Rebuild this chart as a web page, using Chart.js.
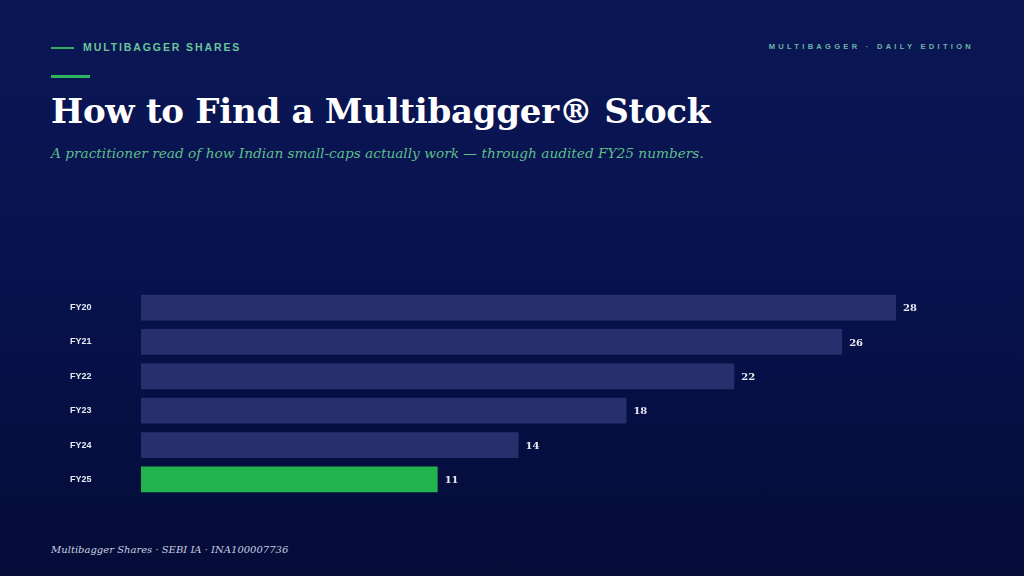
<!DOCTYPE html>
<html>
<head>
<meta charset="utf-8">
<script src="https://cdn.jsdelivr.net/npm/chart.js@4.4.1/dist/chart.umd.min.js"></script>
<style>
  html, body { margin: 0; padding: 0; }
  body {
    width: 1024px; height: 576px; overflow: hidden; position: relative;
    background: linear-gradient(180deg, #0b1654 0%, #081350 40%, #050c38 100%);
    font-family: "Liberation Sans", Arial, sans-serif;
  }
  .rule1 { position: absolute; left: 51px; top: 47px; width: 23px; height: 2px; background: #2fae62; }
  .kicker { position: absolute; left: 83px; top: 41px; font-size: 10.5px; font-weight: bold; letter-spacing: 1.9px; color: #6cc59a; }
  .edition { position: absolute; right: 50px; top: 42px; font-size: 7.5px; font-weight: bold; letter-spacing: 3.3px; color: #6fb5a5; }
  .rule2 { position: absolute; left: 51px; top: 75px; width: 39px; height: 3px; background: #2fb560; }
  h1 { position: absolute; left: 51px; top: 91px; margin: 0; font-family: "DejaVu Serif", Georgia, serif; font-weight: bold; font-size: 34.1px; color: #ffffff; letter-spacing: -0.3px; }
  .sub { position: absolute; left: 51px; top: 145px; font-family: "DejaVu Serif", Georgia, serif; font-style: italic; font-size: 13.7px; color: #5fbf8a; }
  .foot { position: absolute; left: 51px; top: 544px; font-family: "DejaVu Serif", Georgia, serif; font-style: italic; font-size: 10px; color: #c9cde0; }
  #wrap { position: absolute; left: 70px; top: 282px; width: 880px; height: 223px; }
</style>
</head>
<body>
<div class="rule1"></div>
<div class="kicker">MULTIBAGGER SHARES</div>
<div class="edition">MULTIBAGGER · DAILY EDITION</div>
<div class="rule2"></div>
<h1>How to Find a Multibagger® Stock</h1>
<div class="sub">A practitioner read of how Indian small-caps actually work — through audited FY25 numbers.</div>
<div class="foot">Multibagger Shares · SEBI IA · INA100007736</div>
<div id="wrap"><canvas id="myChart"></canvas></div>
<script>
var years = ['FY20', 'FY21', 'FY22', 'FY23', 'FY24', 'FY25'];
var values = [28, 26, 22, 18, 14, 11];
var barColors = ['#27306c', '#27306c', '#27306c', '#27306c', '#27306c', '#22b24e'];

// petit plugin pour écrire la valeur au bout de chaque barre
var valueLabels = {
    id: 'valueLabels',
    afterDatasetsDraw(chart) {
        var c = chart.ctx;
        var meta = chart.getDatasetMeta(0);
        c.save();
        c.font = 'bold 10px "DejaVu Serif", Georgia, serif';
        c.fillStyle = '#e8eaf2';
        c.textAlign = 'left';
        c.textBaseline = 'middle';
        meta.data.forEach((bar, i) => {
            c.fillText(values[i], bar.x + 7, bar.y + 1);
        });
        c.restore();
    }
};

config = {
    type: 'bar',
    data: {
        labels: years,
        datasets: [{
            data: values,
            backgroundColor: barColors,
            borderWidth: 0,
            barPercentage: 1,
            categoryPercentage: 0.75
        }]
    },
    options: {
        indexAxis: 'y',
        responsive: true,
        maintainAspectRatio: false,
        animation: false,
        layout: { padding: 0 },
        plugins: {
            legend: { display: false },
            tooltip: { enabled: false }
        },
        scales: {
            x: {
                display: false,
                min: 0,
                max: 30
            },
            y: {
                grid: { display: false, drawTicks: false },
                border: { display: false },
                afterFit: function (scale) { scale.width = 71; },
                ticks: {
                    crossAlign: 'far',
                    color: '#e8eaf2',
                    font: { family: '"Liberation Sans", Arial, sans-serif', size: 9, weight: 'bold' }
                }
            }
        }
    },
    plugins: [valueLabels]
};
const ctx = document.getElementById('myChart');
const myChart = new Chart(ctx, config);
</script>
</body>
</html>
